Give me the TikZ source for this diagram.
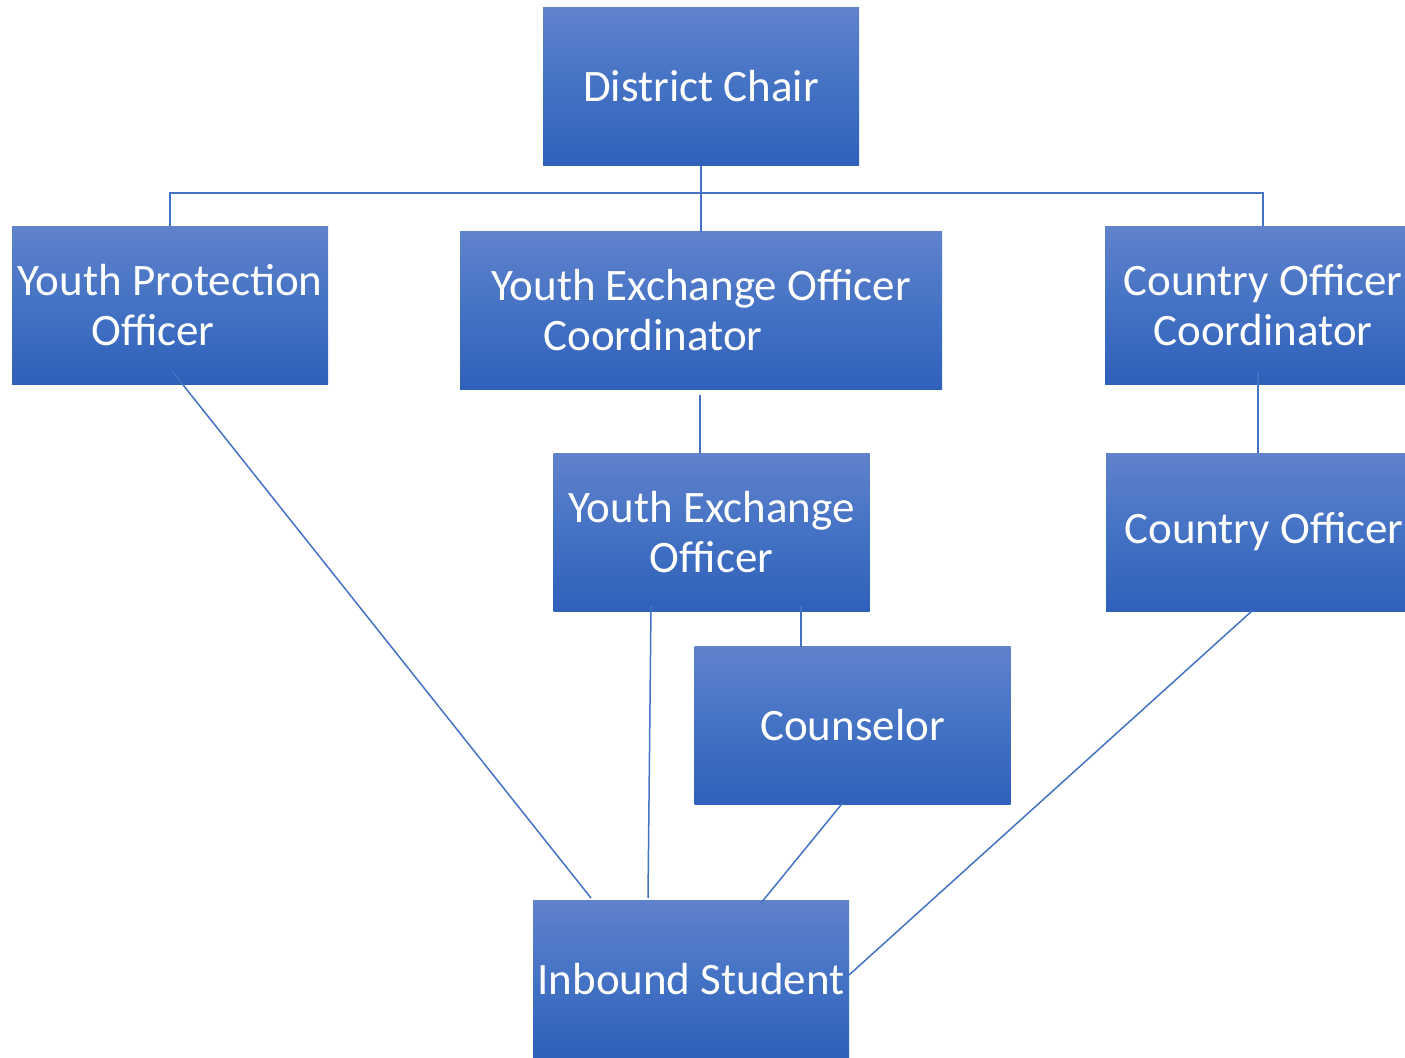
\documentclass[tikz,border=0pt]{standalone}
\usepackage{fontspec}
\setmainfont{Carlito}
\definecolor{gtop}{RGB}{96,130,204}
\definecolor{gmid}{RGB}{68,114,196}
\definecolor{gbot}{RGB}{47,96,186}
\definecolor{lnc}{RGB}{68,114,196}
\begin{document}
\begin{tikzpicture}[x=0.5pt,y=-0.5pt,
  box/.style={rectangle, inner sep=0pt, outer sep=0pt,
    top color=gtop, bottom color=gbot, middle color=gmid,
    minimum width=158pt, minimum height=79pt,
    text=white, align=center, font=\fontsize{22.5}{25}\selectfont},
  conn/.style={draw=lnc, line width=0.75pt}]
\useasboundingbox (0,0) rectangle (1405,1057);
\clip (0,0) rectangle (1405,1057);
% boxes
\node[box] (dc) at (701,86.5) {District Chair};
\node[box] (ypo) at (170,305) {Youth Protection\\Officer\hspace*{17pt}};
\node[box, minimum width=241pt] (yeoc) at (701,310.5) {Youth Exchange Officer\\Coordinator\hspace*{48pt}};
\node[box] (coc) at (1263,305) {Country Officer\\Coordinator};
\node[box] (yeo) at (711.5,532) {Youth Exchange\\Officer};
\node[box] (co) at (1264,532) {Country Officer};
\node[box] (cou) at (852.5,725.5) {Counselor};
\node[box] (inb) at (691,979) {Inbound Student};
% connectors
\coordinate (bus) at (701,193);
\draw[conn] (dc.south) -- (yeoc.north);
\draw[conn] (ypo.north) -- (ypo.north |- bus) -- (coc.north |- bus) -- (coc.north);
\draw[conn] ([shift={(-1,5)}]yeoc.south) -- ([shift={(-1,0)}]yeoc.south |- yeo.north);
\draw[conn] ([shift={(-5,-12)}]coc.south) -- ([shift={(-5,0)}]coc.south |- co.north);
\draw[conn] ([shift={(89.5,-5)}]yeo.south) -- ([shift={(89.5,0)}]yeo.south |- cou.north);
\draw[conn] ([shift={(2,-13)}]ypo.south) -- ([shift={(-100,-2)}]inb.north);
\draw[conn] ([shift={(-60.5,-5)}]yeo.south) -- ([shift={(-43,-2)}]inb.north);
\draw[conn] ([shift={(-9.5,-2)}]cou.south) -- ([shift={(70,3)}]inb.north);
\draw[conn] ([shift={(-11,-1)}]co.south) -- ([shift={(0,-4)}]inb.east);
\end{tikzpicture}
\end{document}
